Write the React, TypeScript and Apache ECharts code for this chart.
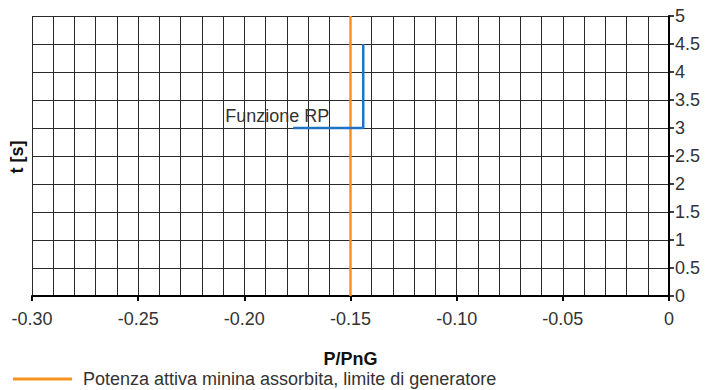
import React, { useEffect, useRef } from "react";
import * as echarts from "echarts";

const xTicks = [-0.3, -0.25, -0.2, -0.15, -0.1, -0.05, 0];
const yTicks = [0, 0.5, 1, 1.5, 2, 2.5, 3, 3.5, 4, 4.5, 5];
const limitName = "Potenza attiva minina assorbita, limite di generatore";
const limitX = [-0.15, -0.15];
const limitY = [0, 5];
const rpName = "Funzione RP";
const rpX = [-0.177, -0.144, -0.144];
const rpY = [3, 3, 4.5];

const FONT = "'Liberation Sans', Arial, Helvetica, sans-serif";
const TXT = "#333333";

export default function App() {
  const ref = useRef<HTMLDivElement>(null);
  useEffect(() => {
    if (!ref.current) return;
    const chart = echarts.init(ref.current, undefined, { renderer: "svg" });
    const gridStyle = { color: "#2a2a2a", width: 1 };
    chart.setOption({
      animation: false,
      textStyle: { fontFamily: FONT },
      grid: { left: 32, right: 48, top: 16, bottom: 94, containLabel: false },
      legend: {
        data: [limitName],
        left: 13,
        top: 370,
        padding: 0,
        icon: "rect",
        itemWidth: 59,
        itemHeight: 3,
        textStyle: { fontSize: 18, lineHeight: 17, color: TXT, fontFamily: FONT, padding: [0, 0, 0, 6] },
      },
      xAxis: {
        type: "value",
        min: xTicks[0],
        max: xTicks[xTicks.length - 1],
        interval: 0.05,
        name: "P/PnG",
        nameLocation: "middle",
        nameGap: 55,
        nameTextStyle: { fontSize: 18, lineHeight: 15, fontWeight: "bold", color: "#111", fontFamily: FONT },
        axisLine: { show: true, onZero: false, lineStyle: { color: "#000", width: 2 } },
        axisTick: { show: true, inside: false, length: 5, lineStyle: { color: "#000", width: 2 } },
        axisLabel: {
          fontSize: 18,
          color: TXT,
          margin: 14,
          formatter: (v: number) => (Math.abs(v) < 1e-9 ? "0" : v.toFixed(2)),
        },
        splitLine: { show: true, lineStyle: gridStyle },
        minorTick: { show: false, splitNumber: 5 },
        minorSplitLine: { show: true, lineStyle: gridStyle },
      },
      yAxis: {
        type: "value",
        position: "right",
        min: yTicks[0],
        max: yTicks[yTicks.length - 1],
        interval: 0.5,
        axisLine: { show: true, onZero: false, lineStyle: { color: "#000", width: 2 } },
        axisTick: { show: true, inside: false, length: 5, lineStyle: { color: "#000", width: 1.5 } },
        axisLabel: {
          fontSize: 18,
          color: TXT,
          margin: 6,
          formatter: (v: number) => String(v),
        },
        splitLine: { show: true, lineStyle: gridStyle },
      },
      graphic: [
        {
          type: "text",
          x: 17,
          y: 157,
          rotation: Math.PI / 2,
          style: {
            text: "t [s]",
            font: `bold 18px ${FONT}`,
            fill: "#111",
            align: "center",
            verticalAlign: "middle",
          },
        },
      ],
      series: [
        {
          name: limitName,
          type: "line",
          data: limitX.map((x, i) => [x, limitY[i]]),
          showSymbol: false,
          symbol: "none",
          lineStyle: { color: "#f7941d", width: 2.5 },
          itemStyle: { color: "#f7941d" },
          z: 5,
        },
        {
          name: rpName,
          type: "line",
          data: rpX.map((x, i) => [x, rpY[i]]),
          showSymbol: true,
          symbol: "circle",
          symbolSize: 0,
          label: {
            show: true,
            position: "top",
            distance: 5,
            formatter: (p: any) => (p.dataIndex === 0 ? rpName : ""),
            fontSize: 18,
            color: TXT,
            offset: [-16, 2],
          },
          lineStyle: { color: "#1f74c4", width: 2.5 },
          itemStyle: { color: "#1f74c4" },
          z: 6,
        },
      ],
    });
    return () => chart.dispose();
  }, []);
  return <div ref={ref} style={{ width: 717, height: 390, position: "absolute", left: 0, top: 0 }} />;
}
